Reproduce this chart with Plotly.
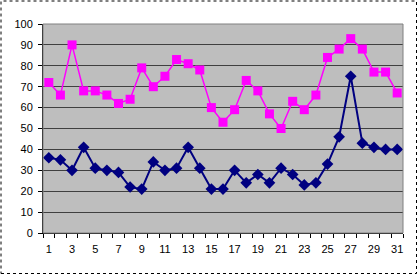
import plotly.graph_objects as go

days = list(range(1, 32))
pink_vals = [72, 66, 90, 68, 68, 66, 62, 64, 79, 70, 75, 83, 81, 78, 60, 53, 59, 73, 68, 57,
             50, 63, 59, 66, 84, 88, 93, 88, 77, 77, 67]
blue_vals = [36, 35, 30, 41, 31, 30, 29, 22, 21, 34, 30, 31, 41, 31, 21, 21, 30, 24, 28, 24,
             31, 28, 23, 24, 33, 46, 75, 43, 41, 40, 40]
x_labels = [str(d) for d in range(1, 32, 2)]

fig = go.Figure()
fig.add_trace(go.Scatter(x=days, y=pink_vals, mode="lines+markers",
                         line=dict(color="#FF00FF", width=1.5),
                         marker=dict(symbol="square", size=9, color="#FF00FF")))
fig.add_trace(go.Scatter(x=days, y=blue_vals, mode="lines+markers",
                         line=dict(color="#000080", width=2),
                         marker=dict(symbol="diamond", size=9, color="#000080")))

L, R, T, B = 43, 15, 24, 42
W, H = 418, 275
pw, ph = W - L - R, H - T - B

fig.update_layout(
    width=W, height=H,
    margin=dict(l=L, r=R, t=T, b=B),
    paper_bgcolor="white",
    plot_bgcolor="#BEBEBE",
    showlegend=False,
    font=dict(family="Liberation Sans, Arial", size=10, color="black"),
    xaxis=dict(range=[0.5, 31.5], tickmode="array", tickvals=list(range(1, 32, 2)),
               ticktext=x_labels, ticks="", showgrid=False, zeroline=False,
               showline=True, linecolor="black", linewidth=1,
               ticklabelstandoff=6,
               minor=dict(tickmode="linear", tick0=0.5, dtick=1, ticks="outside",
                          ticklen=4, tickcolor="black", showgrid=False),
               tickfont=dict(size=11)),
    yaxis=dict(range=[0, 100], tick0=0, dtick=10, ticks="outside", ticklen=4,
               tickcolor="black", showgrid=True, gridcolor="#404040", gridwidth=1,
               zeroline=False, showline=True, linecolor="black", linewidth=1,
               ticklabelstandoff=3,
               tickfont=dict(size=11)),
)
# right / top plot border
fig.add_shape(type="rect", xref="paper", yref="paper", x0=0, y0=0, x1=1, y1=1,
              line=dict(color="#808080", width=1))
# outer dotted border
fig.add_shape(type="rect", xref="paper", yref="paper",
              x0=(1 - L) / pw, x1=(416.5 - L) / pw,
              y0=(T + ph - 273.5) / ph, y1=(T + ph - 1) / ph,
              line=dict(color="black", width=1, dash="dot"))

fig.write_html("out.html")
